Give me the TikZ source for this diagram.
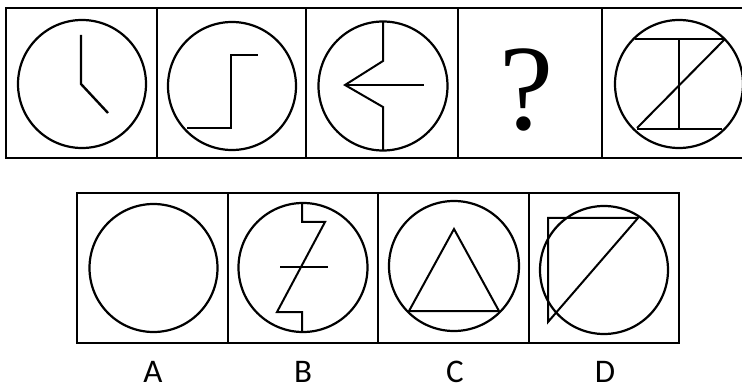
\documentclass[tikz,border=0pt]{standalone}
\usepackage{fontspec}
\newfontfamily\labelfont{Carlito}
\newfontfamily\qfont{Liberation Serif}
\begin{document}
\begin{tikzpicture}[x=1pt,y=-1pt,
  frame/.style={line width=2pt,black},
  ring/.style={line width=2.2pt,black},
  fig/.style={line width=2pt,black,line join=miter},
  thin/.style={line width=1.5pt,black},
  lab/.style={font=\labelfont\fontsize{33}{33}\selectfont,inner sep=0pt}]
\path[use as bounding box] (0,0) rectangle (742,390);
% top row frame
\draw[frame] (742,8) -- (6,8) -- (6,158) -- (742,158);
\foreach \x in {157,306,458,602} \draw[frame] (\x,8) -- (\x,158);
% panel 1: clock
\draw[ring] (82,84) circle (64);
\draw[fig,line width=2.4pt] (81,35) -- (81,84) -- (108,113);
% panel 2: step
\draw[ring] (232,86) circle (64);
\draw[fig] (187,128) -- (231,128) -- (231,55) -- (258,55);
% panel 3
\draw[ring] (383,86) circle (64.5);
\draw[fig] (383,22) -- (383,61) -- (345,85) -- (383,107) -- (383,150);
\draw[thin] (345,85) -- (424,85);
% panel 4: question
\node[inner sep=0pt,font=\qfont\fontsize{122}{122}\selectfont] (q) at (527,90) {?};
% panel 5
\draw[ring] (679,84) circle (64);
\draw[fig] (635,39) -- (725,39);
\draw[fig] (637,129) -- (722,129);
\draw[thin] (679,39) -- (679,129);
\draw[fig] (725,39) -- (637,128);
% bottom row frame
\draw[frame] (77,193) rectangle (679,343);
\foreach \x in {228,378,529} \draw[frame] (\x,193) -- (\x,343);
% A
\draw[ring] (153.5,268) circle (64);
% B
\draw[ring] (303,267.5) circle (64.5);
\draw[fig] (302,203) -- (302,222) -- (325,222) -- (277,312) -- (302,312) -- (302,332);
\draw[thin] (280,267) -- (328,267);
% C
\draw[ring] (454,266) circle (65);
\draw[fig] (454,229) -- (409,311) -- (499,311) -- cycle;
% D
\draw[ring] (604,270) circle (64);
\draw[fig] (548,322) -- (548,218) -- (638,218) -- cycle;
% labels
\node[lab] (la) at (153,372) {A};
\node[lab] (lb) at (303,372) {B};
\node[lab] (lc) at (455,372) {C};
\node[lab] (ld) at (605,372) {D};
\end{tikzpicture}
\end{document}
